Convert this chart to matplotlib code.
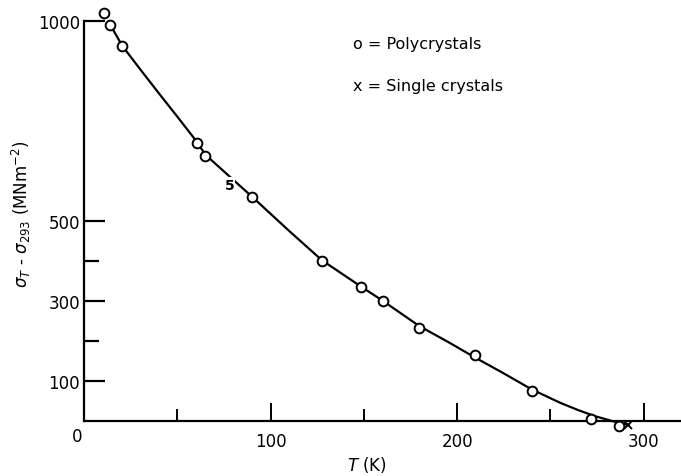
import matplotlib
matplotlib.use('Agg')
import matplotlib.pyplot as plt

# Polycrystal measurements: temperature (K) and flow stress above the 293 K value (MN m^-2)
poly_T = [10.5, 14, 20.5, 60.5, 65, 90, 127.5, 148.5, 160, 179.5, 209.5, 240, 271.5, 286.5]
poly_sigma = [1021, 991, 938, 696, 663, 561, 400, 335, 300, 233, 164, 75, 6, -13]

# Single crystal measurement
single_T = [291.5]
single_sigma = [-10]

# Hand-drawn trend curve through the points
curve_T = [14, 20.5, 30, 40, 50, 60.5, 65, 80, 90, 110, 127.5, 148.5, 160, 179.5,
           195, 209.5, 225, 240, 255, 265, 274, 283, 292]
curve_sigma = [991, 938, 880, 820, 761, 698, 666, 603, 561, 475, 402, 336, 301, 238,
               198, 159, 119, 79, 46, 27, 12, 0, -10]

# Stray mark printed on the curve
mark_T, mark_sigma = 78, 591

x_major = [100, 200, 300]
x_minor = [50, 150, 250]
y_major = [100, 300, 500, 1000]
y_minor = [200, 400]

fig = plt.figure(figsize=(6.81, 4.77), dpi=100)
ax = fig.add_axes([84 / 681, 55 / 477, 597 / 681, 400 / 477])

ax.plot(curve_T, curve_sigma, color='black', linewidth=1.6, clip_on=False, zorder=2)
ax.plot(poly_T, poly_sigma, linestyle='none', marker='o', markersize=7,
        markerfacecolor='white', markeredgecolor='black', markeredgewidth=1.4,
        clip_on=False, zorder=4)
ax.plot(single_T, single_sigma, linestyle='none', marker='x', markersize=6,
        color='black', markeredgewidth=1.4, clip_on=False, zorder=4)
ax.text(mark_T, mark_sigma, '5', fontsize=10, fontweight='bold', ha='center', va='center',
        bbox={'boxstyle': 'square,pad=0.05', 'facecolor': 'white', 'edgecolor': 'none'},
        zorder=3)

ax.set_xlim(0, 320)
ax.set_ylim(0, 1000)

for side in ('top', 'right'):
	ax.spines[side].set_visible(False)
for side in ('left', 'bottom'):
	ax.spines[side].set_linewidth(1.6)

ax.set_xticks(x_major)
ax.set_xticks(x_minor, minor=True)
ax.set_yticks(y_major)
ax.set_yticks(y_minor, minor=True)
ax.tick_params(axis='x', which='major', direction='in', length=13, width=1.4, pad=8, labelsize=12)
ax.tick_params(axis='x', which='minor', direction='in', length=9, width=1.4)
ax.tick_params(axis='y', which='major', direction='in', length=15, width=1.6, pad=3, labelsize=12)
ax.tick_params(axis='y', which='minor', direction='in', length=11, width=1.6)

ax.annotate('0', xy=(0, 0), xytext=(-5, -11), textcoords='offset points',
            ha='center', va='center', fontsize=12)

ax.set_xlabel('$T$ (K)', fontsize=12, va='center', ha='center')
ax.xaxis.set_label_coords(0.474, -0.1075)
ax.set_ylabel(r'$\sigma_T$ - $\sigma_{293}$ (MNm$^{-2}$)', fontsize=12, va='center', ha='center')
ax.yaxis.set_label_coords(-0.104, 0.52)

ax.text(0.4506, 0.945, 'o = Polycrystals', transform=ax.transAxes, fontsize=11.5,
        ha='left', va='center')
ax.text(0.4506, 0.8375, 'x = Single crystals', transform=ax.transAxes, fontsize=11.5,
        ha='left', va='center')

fig.savefig('out.png', dpi=100)
